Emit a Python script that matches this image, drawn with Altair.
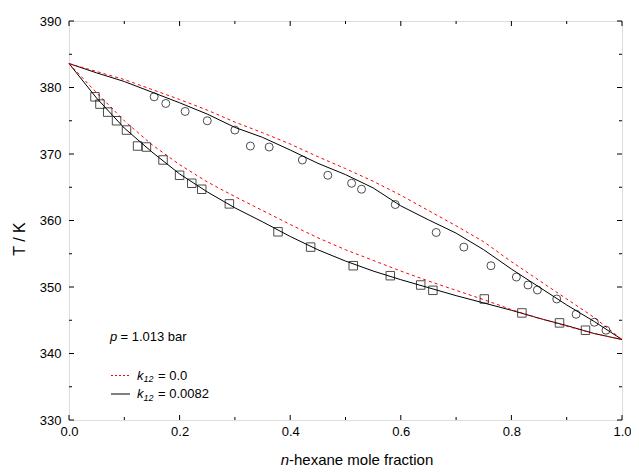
import altair as alt
import pandas as pd

# ---- experimental points ----
liq_x = [0.047, 0.056, 0.070, 0.086, 0.104, 0.124, 0.140, 0.170, 0.200, 0.222, 0.240,
         0.290, 0.378, 0.437, 0.514, 0.581, 0.636, 0.658, 0.751, 0.819, 0.887, 0.934]
liq_T = [378.6, 377.5, 376.3, 375.0, 373.6, 371.2, 371.05, 369.1, 366.8, 365.6, 364.7,
         362.5, 358.3, 356.0, 353.2, 351.7, 350.3, 349.5, 348.2, 346.1, 344.6, 343.5]
vap_x = [0.154, 0.175, 0.210, 0.250, 0.300, 0.328, 0.362, 0.422, 0.468, 0.511, 0.529,
         0.590, 0.664, 0.714, 0.763, 0.809, 0.830, 0.847, 0.882, 0.917, 0.950, 0.971]
vap_T = [378.6, 377.6, 376.4, 375.0, 373.6, 371.2, 371.05, 369.1, 366.8, 365.6, 364.7,
         362.4, 358.2, 356.0, 353.2, 351.5, 350.3, 349.55, 348.2, 345.9, 344.7, 343.5]

# ---- model curves ----
grid_x = [0.0, 0.05, 0.1, 0.15, 0.2, 0.25, 0.3, 0.35, 0.4, 0.45, 0.5,
          0.55, 0.6, 0.65, 0.7, 0.75, 0.8, 0.85, 0.9, 0.95, 1.0]
bub_solid = [383.6, 378.4, 373.9, 370.3, 367.0, 364.3, 361.9, 359.8, 357.6, 355.6, 353.9,
             352.4, 351.1, 349.9, 348.7, 347.6, 346.5, 345.3, 344.2, 343.0, 342.1]
bub_dash = [383.6, 379.2, 375.0, 371.4, 368.4, 365.8, 363.6, 361.5, 359.4, 357.4, 355.6,
            354.0, 352.4, 350.9, 349.5, 348.1, 346.6, 345.3, 344.1, 343.0, 342.1]
dew_solid = [383.6, 382.2, 380.9, 379.3, 377.7, 376.0, 374.0, 372.5, 370.6, 368.6, 366.9,
             364.9, 362.2, 360.1, 358.1, 355.6, 352.7, 350.0, 347.3, 344.8, 342.1]
dew_dash = [383.6, 382.4, 381.2, 379.7, 378.2, 376.6, 374.8, 373.2, 371.5, 369.6, 367.8,
            365.9, 363.8, 361.5, 359.2, 356.8, 353.8, 351.0, 348.2, 345.4, 342.1]

# ---- axes ----
x_major = [0.0, 0.2, 0.4, 0.6, 0.8, 1.0]
x_minor = [0.1, 0.3, 0.5, 0.7, 0.9]
y_major = [330, 340, 350, 360, 370, 380, 390]
y_minor = [335, 345, 355, 365, 375, 385]

W, H = 553, 399
FONT = "Liberation Sans"

xs = alt.Scale(domain=[0, 1], nice=False)
ys = alt.Scale(domain=[330, 390], nice=False)

curves = pd.DataFrame({
    "x": grid_x * 4,
    "T": bub_solid + bub_dash + dew_solid + dew_dash,
    "curve": ["bs"] * 21 + ["bd"] * 21 + ["ds"] * 21 + ["dd"] * 21,
})
liq = pd.DataFrame({"x": liq_x, "T": liq_T})
vap = pd.DataFrame({"x": vap_x, "T": vap_T})

xaxis = alt.Axis(values=x_major, format=".1f", ticks=False, domain=False, grid=False,
                 labelFont=FONT, labelFontSize=13, labelColor="#000", labelPadding=5,
                 labelFlush=False, title=None)
yaxis = alt.Axis(values=y_major, format="d", ticks=False, domain=False, grid=False,
                 labelFont=FONT, labelFontSize=13, labelColor="#000", labelPadding=8,
                 labelFlush=False, title=None)

base_x = alt.X("x:Q", scale=xs, axis=xaxis)
base_y = alt.Y("T:Q", scale=ys, axis=yaxis)

solid = alt.Chart(curves).transform_filter(
    alt.FieldOneOfPredicate(field="curve", oneOf=["bs", "ds"])
).mark_line(color="#000", strokeWidth=1).encode(
    x=base_x, y=base_y, detail="curve:N", order="x:Q")

dashed = alt.Chart(curves).transform_filter(
    alt.FieldOneOfPredicate(field="curve", oneOf=["bd", "dd"])
).mark_line(color="#ff0000", strokeWidth=1, strokeDash=[3, 3]).encode(
    x="x:Q", y="T:Q", detail="curve:N", order="x:Q")

squares = alt.Chart(liq).mark_point(shape="square", filled=False, color="#000",
                                     strokeWidth=1, size=72).encode(x="x:Q", y="T:Q")
circles = alt.Chart(vap).mark_point(shape="circle", filled=False, color="#000",
                                     strokeWidth=1, size=64).encode(x="x:Q", y="T:Q")

# inward ticks on all four sides
def yticks(vals, x0, x1):
    return alt.Chart(pd.DataFrame({"T": vals})).mark_rule(color="#000", strokeWidth=1).encode(
        y="T:Q", x=alt.value(x0), x2=alt.value(x1))

def xticks(vals, y0, y1):
    return alt.Chart(pd.DataFrame({"x": vals})).mark_rule(color="#000", strokeWidth=1).encode(
        x="x:Q", y=alt.value(y0), y2=alt.value(y1))

ticks = [
    yticks(y_major, 0, 5), yticks(y_minor, 0, 3),
    yticks(y_major, W - 5, W), yticks(y_minor, W - 3, W),
    xticks(x_major, H, H - 5), xticks(x_minor, H, H - 3),
    xticks(x_major, 0, 5), xticks(x_minor, 0, 3),
]

def txt(s, x, y, size=13, style="normal", align="left", angle=0, baseline="middle"):
    return alt.Chart(pd.DataFrame({"t": [s]})).mark_text(
        font=FONT, fontSize=size, fontStyle=style, align=align, baseline=baseline,
        angle=angle, color="#000").encode(text="t:N", x=alt.value(x), y=alt.value(y))

annot = [
    # axis titles
    txt("n", 220, 439, size=15, style="italic", align="right"),
    txt("-hexane mole fraction", 220, 439, size=15),
    txt("T / K", -49, 218, size=16, align="center", angle=270),
    # pressure label
    txt("p", 41, 316, style="italic"),
    txt("= 1.013 bar", 51.5, 316),
    # legend
    txt("k", 68, 354.5, style="italic"),
    txt("12", 74.5, 358, size=9, style="italic"),
    txt("= 0.0", 89, 354.5),
    txt("k", 68, 373, style="italic"),
    txt("12", 74.5, 376.5, size=9, style="italic"),
    txt("= 0.0082", 89, 373),
]

leg_dash = alt.Chart(pd.DataFrame({"a": [0]})).mark_rule(
    color="#ff0000", strokeWidth=1, strokeDash=[2, 2]).encode(
    x=alt.value(42), x2=alt.value(61), y=alt.value(354.5))
leg_solid = alt.Chart(pd.DataFrame({"a": [0]})).mark_rule(
    color="#000", strokeWidth=1).encode(
    x=alt.value(42), x2=alt.value(61), y=alt.value(373))

chart = alt.layer(
    solid, dashed, squares, circles, *ticks, leg_dash, leg_solid, *annot
).properties(
    width=W, height=H,
    autosize=alt.AutoSizeParams(type="none"),
    padding={"left": 61, "top": 13, "right": 9, "bottom": 50},
).configure_view(stroke="#000", strokeWidth=1).configure(background="white")

chart.save("out.html", embed_options={"renderer": "svg", "actions": False})
